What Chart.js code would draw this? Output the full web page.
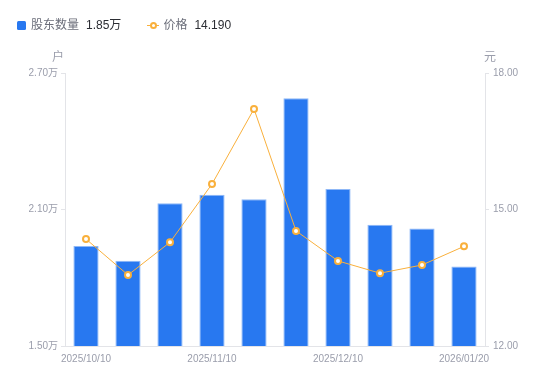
<!DOCTYPE html>
<html>
<head>
<meta charset="utf-8">
<script src="https://cdn.jsdelivr.net/npm/chart.js@4.4.1/dist/chart.umd.min.js"></script>
<style>
  html, body { margin: 0; padding: 0; background: #fff; }
  #wrap { position: relative; width: 550px; height: 381px; font-family: "Liberation Sans", Arial, "Noto Sans CJK SC", sans-serif; }
  #legend { position: absolute; left: 17px; top: 17px; font-size: 12px; line-height: 16px; display: flex; align-items: center; z-index: 2; }
  .item { display: flex; align-items: center; margin-right: 26px; }
  .sq { width: 9px; height: 9px; background: #2878f0; border-radius: 1.5px; margin-right: 5px; }
  .ln { position: relative; width: 12px; height: 10px; margin-right: 4px; }
  .ln:before { content: ""; position: absolute; left: 0; right: 0; top: 4.5px; height: 1px; background: #f9b03c; }
  .ln:after { content: ""; position: absolute; left: 3px; top: 2px; width: 3px; height: 3px; border: 2px solid #f9b03c; border-radius: 50%; background: #fff; }
  .nm { color: #6b6e7a; margin-right: 7px; }
  .vl { color: #2b2d33; }
  canvas { position: absolute; left: 0; top: 0; }
</style>
</head>
<body>
<div id="wrap">
  <div id="legend">
    <div class="item"><div class="sq"></div><span class="nm">股东数量</span><span class="vl">1.85万</span></div>
    <div class="item"><div class="ln"></div><span class="nm">价格</span><span class="vl">14.190</span></div>
  </div>
  <canvas id="c" width="550" height="381"></canvas>
</div>
<script>
const categories = ["2025/10/10","2025/10/20","2025/10/31","2025/11/10","2025/11/20","2025/11/28","2025/12/10","2025/12/19","2025/12/31","2026/01/20"];
const shownLabels = [0, 3, 6, 9];
const holders = [1.94, 1.875, 2.127, 2.165, 2.145, 2.589, 2.19, 2.033, 2.017, 1.85];
const prices = [14.35, 13.56, 14.28, 15.56, 17.21, 14.53, 13.87, 13.60, 13.78, 14.19];
const leftTicks = [1.5, 2.1, 2.7];
const rightTicks = [12, 15, 18];
const leftUnit = "户";
const rightUnit = "元";

const tickColor = "#9a9dab";
const axisColor = "#e3e4e8";

const unitPlugin = {
  id: "units",
  afterDraw(chart) {
    const ctx = chart.ctx;
    const a = chart.chartArea;
    ctx.save();
    ctx.font = '12px "Liberation Sans", "Noto Sans CJK SC", sans-serif';
    ctx.fillStyle = tickColor;
    ctx.textBaseline = "middle";
    ctx.textAlign = "center";
    ctx.fillText(leftUnit, a.left - 7, a.top - 15);
    ctx.fillText(rightUnit, a.right + 5, a.top - 15);
    ctx.restore();
  }
};

new Chart(document.getElementById("c"), {
  data: {
    labels: categories,
    datasets: [
      {
        type: "line",
        data: prices,
        yAxisID: "y1",
        borderColor: "#f9b03c",
        borderWidth: 1,
        pointRadius: 3,
        pointBorderWidth: 2,
        pointBackgroundColor: "#fff",
        pointBorderColor: "#f9b03c",
        tension: 0,
        order: 0
      },
      {
        type: "bar",
        data: holders,
        yAxisID: "y",
        backgroundColor: "#2878f0",
        borderColor: "#8fb8f7",
        borderWidth: 1,
        barPercentage: 0.6,
        categoryPercentage: 1,
        order: 1
      }
    ]
  },
  options: {
    responsive: false,
    animation: false,
    devicePixelRatio: 1,
    layout: { padding: { top: 73, bottom: 0, left: 0, right: 0 } },
    plugins: { legend: { display: false }, tooltip: { enabled: false } },
    scales: {
      x: {
        afterFit(s) { s.height = 35; },
        grid: { display: false, drawTicks: false },
        border: { display: true, color: axisColor },
        ticks: {
          autoSkip: false, maxRotation: 0, padding: 7,
          color: tickColor, font: { size: 10, family: '"Liberation Sans", Arial, sans-serif' },
          callback(v, i) { return shownLabels.includes(i) ? categories[i] : ""; }
        }
      },
      y: {
        position: "left",
        min: 1.5, max: 2.7,
        afterFit(s) { s.width = 65; },
        afterBuildTicks(s) { s.ticks = leftTicks.map(v => ({ value: v })); },
        grid: { drawOnChartArea: false, drawTicks: true, tickLength: 4, color: axisColor },
        border: { display: true, color: axisColor },
        ticks: {
          padding: 3, color: tickColor,
          font: { size: 10, family: '"Liberation Sans", Arial, "Noto Sans CJK SC", sans-serif' },
          callback(v) { return v.toFixed(2) + "万"; }
        }
      },
      y1: {
        position: "right",
        min: 12, max: 18,
        afterFit(s) { s.width = 65; },
        afterBuildTicks(s) { s.ticks = rightTicks.map(v => ({ value: v })); },
        grid: { drawOnChartArea: false, drawTicks: true, tickLength: 4, color: axisColor },
        border: { display: true, color: axisColor },
        ticks: {
          padding: 4, color: tickColor,
          font: { size: 10, family: '"Liberation Sans", Arial, sans-serif' },
          callback(v) { return v.toFixed(2); }
        }
      }
    }
  },
  plugins: [unitPlugin]
});
</script>
</body>
</html>
